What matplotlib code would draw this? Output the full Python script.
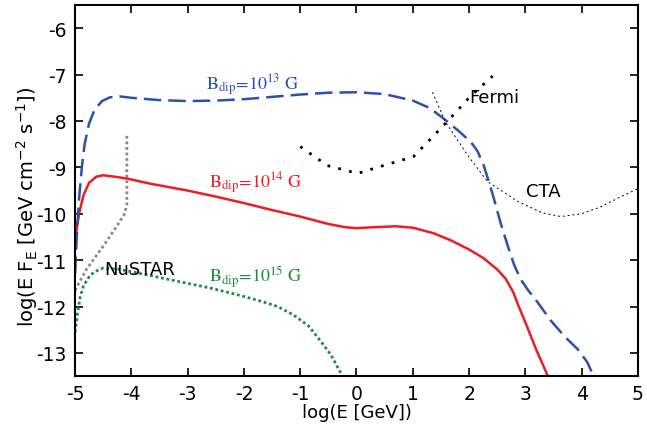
import numpy as np
import matplotlib
matplotlib.use("Agg")
import matplotlib.pyplot as plt

plt.rcParams['axes.unicode_minus'] = False

# log E [GeV] and log(E F_E)
x_b13 = [-5.0, -4.97, -4.93, -4.88, -4.83, -4.75, -4.65, -4.52, -4.38, -4.2, -4.0, -3.5, -3.0,
         -2.5, -2.0, -1.5, -1.0, -0.5, 0.0, 0.5, 1.0, 1.3, 1.55, 1.8, 2.03, 2.15, 2.26, 2.35,
         2.44, 2.56, 2.69, 2.8, 2.92, 3.05, 3.2, 3.45, 3.7, 3.93, 4.1, 4.25]
y_b13 = [-11.3, -10.5, -9.7, -9.0, -8.5, -8.05, -7.75, -7.57, -7.49, -7.47, -7.5, -7.55, -7.57,
         -7.56, -7.53, -7.48, -7.43, -7.39, -7.38, -7.42, -7.56, -7.72, -7.95, -8.2, -8.45, -8.65,
         -8.96, -9.3, -9.67, -10.2, -10.7, -11.1, -11.42, -11.65, -11.88, -12.3, -12.65,
         -12.92, -13.2, -13.6]

x_b14 = [-5.0, -4.97, -4.92, -4.85, -4.75, -4.62, -4.5, -4.3, -4.08, -3.67, -3.0, -2.5, -2.0,
         -1.5, -1.0, -0.5, -0.2, 0.0, 0.3, 0.7, 1.0, 1.37, 1.67, 2.0, 2.26, 2.5, 2.65, 2.78,
         2.9, 3.04, 3.2, 3.39, 3.45]
y_b14 = [-10.75, -10.3, -9.95, -9.6, -9.33, -9.2, -9.17, -9.2, -9.24, -9.35, -9.5, -9.63, -9.77,
         -9.92, -10.06, -10.22, -10.29, -10.31, -10.29, -10.27, -10.3, -10.42, -10.57, -10.77,
         -10.96, -11.2, -11.4, -11.68, -12.05, -12.46, -12.95, -13.47, -13.6]

x_b15 = [-5.0, -4.95, -4.91, -4.85, -4.73, -4.6, -4.5, -4.2, -3.79, -3.2, -2.6, -2.1, -1.71,
         -1.4, -1.12, -0.85, -0.64, -0.45, -0.28, -0.24]
y_b15 = [-12.55, -12.1, -11.8, -11.55, -11.32, -11.22, -11.17, -11.2, -11.3, -11.45, -11.6,
         -11.75, -11.88, -12.0, -12.18, -12.42, -12.74, -13.05, -13.43, -13.55]

x_nustar = [-5.0, -4.8, -4.5, -4.25, -4.12, -4.08, -4.08]
y_nustar = [-11.65, -11.2, -10.7, -10.25, -10.0, -9.8, -8.3]

x_fermi = [-1.0, -0.52, 0.02, 0.48, 1.01, 1.37, 1.62, 2.03, 2.42]
y_fermi = [-8.55, -8.96, -9.13, -8.96, -8.77, -8.32, -8.0, -7.46, -7.03]

x_cta = [1.35, 1.58, 1.98, 2.33, 2.86, 3.3, 3.63, 4.0, 4.34, 4.7, 5.0]
y_cta = [-7.38, -8.02, -8.75, -9.31, -9.73, -9.98, -10.06, -10.0, -9.85, -9.63, -9.46]

c_blue = '#2b52a8'
c_red = '#ee1c24'
c_green = '#1e8a3c'

fig = plt.figure(figsize=(6.47, 4.31), dpi=100)
ax = fig.add_axes([0.116, 0.125, 0.87, 0.861])

ax.plot(x_nustar, y_nustar, color='#8a8a8a', lw=2, linestyle=(0, (1, 1)))
ax.plot(x_b15, y_b15, color=c_green, lw=2, linestyle=(0, (1, 1)))
ax.plot(x_b14, y_b14, color=c_red, lw=1.8)
ax.plot(x_b13, y_b13, color=c_blue, lw=1.8, linestyle=(0, (7, 2.8)))
ax.plot(x_fermi, y_fermi, color='black', lw=2, linestyle=(0, (1, 3)))
ax.plot(x_cta, y_cta, color='black', lw=0.7, linestyle=(0, (2, 3)))

sfont = dict(fontsize=13, math_fontfamily='stix', ha='center', va='center')
ax.text(-1.85, -7.2, r'$\mathrm{B_{dip}\!=\!10^{13}\ G}$', color=c_blue, **sfont)
ax.text(-1.8, -9.33, r'$\mathrm{B_{dip}\!=\!10^{14}\ G}$', color=c_red, **sfont)
ax.text(-1.8, -11.35, r'$\mathrm{B_{dip}\!=\!10^{15}\ G}$', color=c_green, **sfont)
ax.text(2.0, -7.48, 'Fermi', fontsize=13, va='center')
ax.text(3.02, -9.5, 'CTA', fontsize=13, va='center')
ax.text(-4.48, -11.2, 'NuSTAR', fontsize=13, va='center')

ax.set_xlim(-5, 5)
ax.set_ylim(-13.5, -5.5)
ax.set_xticks(range(-5, 6))
ax.set_yticks(range(-13, -5))
ax.tick_params(direction='in', length=6, width=1.2, top=True, right=True, labelsize=13.5, pad=6)
for s in ax.spines.values():
    s.set_linewidth(1.5)
ax.set_xlabel('log(E [GeV])', fontsize=13, labelpad=0)
ax.set_ylabel(r'log(E F$_\mathrm{E}$ [GeV cm$^{-2}$ s$^{-1}$])', fontsize=14)
ax.yaxis.set_label_coords(-0.062, 0.46)

fig.savefig('out.png', dpi=100)
